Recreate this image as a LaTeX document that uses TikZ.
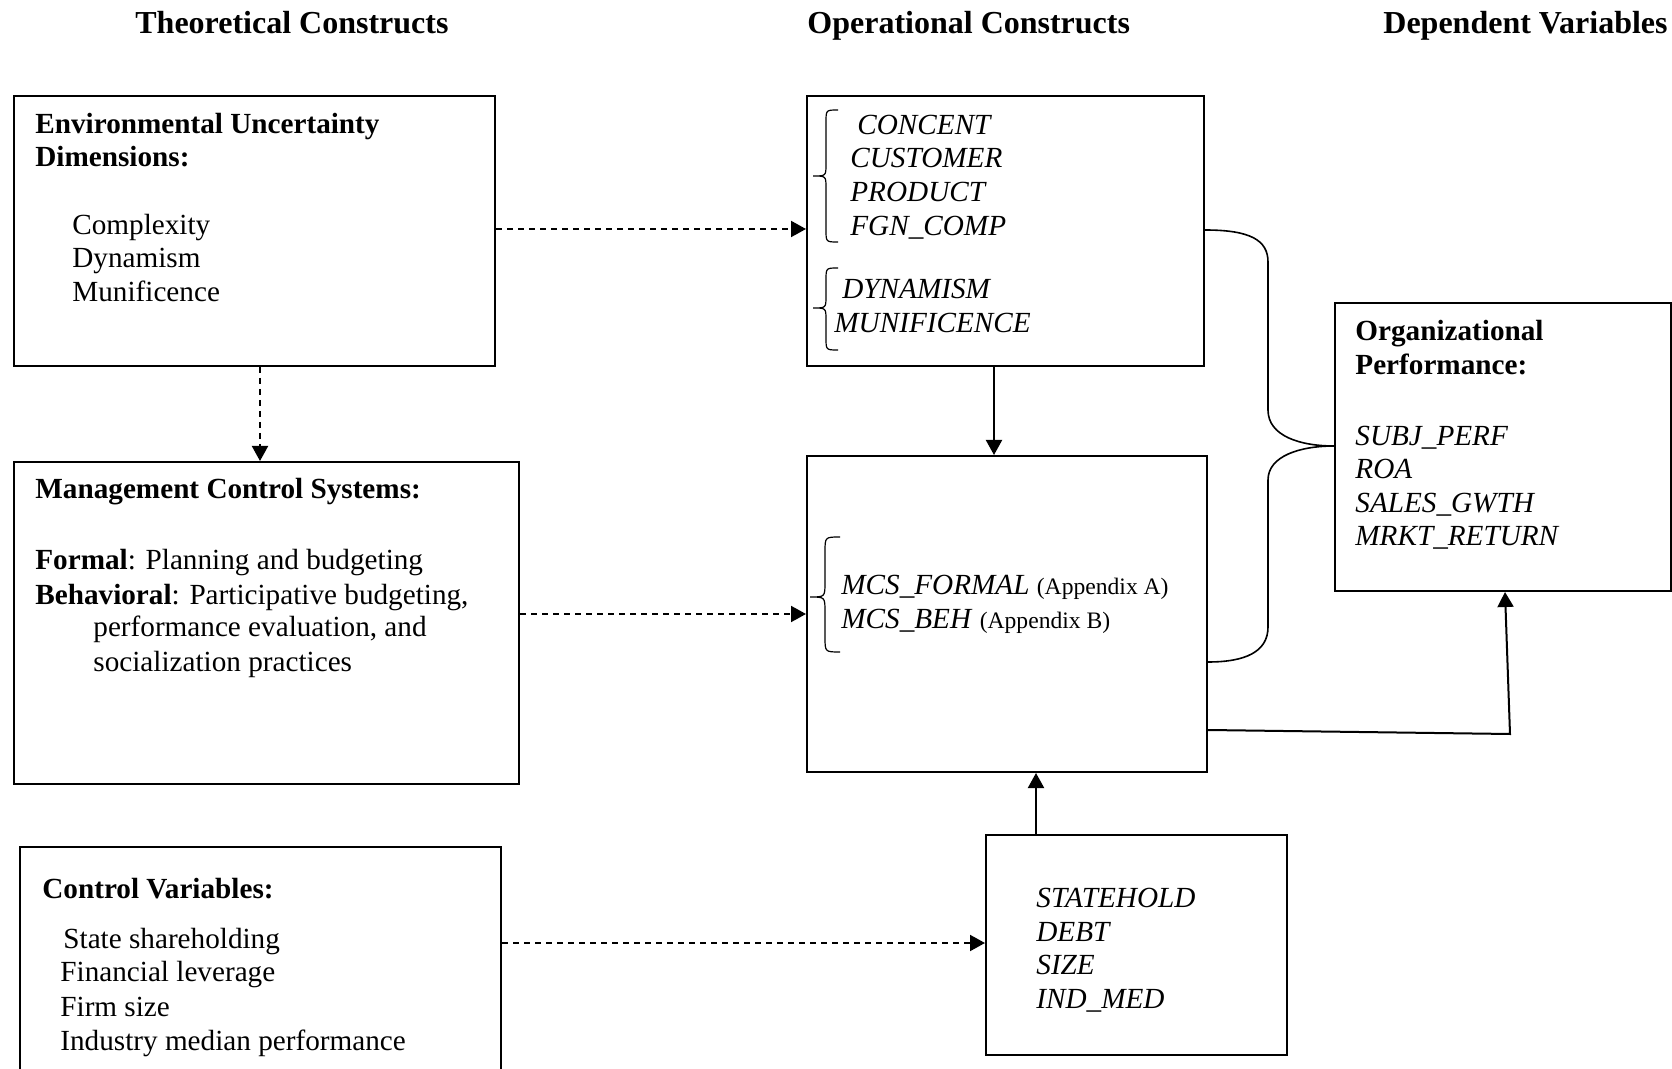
\documentclass[tikz,border=0pt]{standalone}
\usepackage{fontspec}
\setmainfont{Liberation Serif}
\usetikzlibrary{arrows.meta,calc}
\begin{document}
\begin{tikzpicture}[x=0.5pt,y=-0.5pt,
  box/.style={draw=black,line width=1pt,rectangle,inner sep=0pt},
  txt/.style={inner sep=0pt,anchor=base west,font=\fontsize{14.6}{17}\selectfont},
  hdr/.style={inner sep=0pt,anchor=base west,font=\fontsize{16}{19}\selectfont\bfseries},
  dasharrow/.style={line width=1pt,dash pattern=on 3pt off 2.5pt,-{Triangle[length=7.5pt,width=8pt]}},
  solidarrow/.style={line width=1pt,-{Triangle[length=7.5pt,width=8pt]}},
  bracel/.style={line width=0.6pt}]
\useasboundingbox (0,0) rectangle (1672,1069);

% boxes
\node[box,minimum width=481pt*0.5,minimum height=270pt*0.5,anchor=north west] (b1) at (13,95) {};
\node[box,minimum width=505pt*0.5,minimum height=322pt*0.5,anchor=north west] (b2) at (13,461) {};
\node[box,minimum width=481pt*0.5,minimum height=234pt*0.5,anchor=north west] (b3) at (19,846) {};
\node[box,minimum width=397pt*0.5,minimum height=270pt*0.5,anchor=north west] (o1) at (806,95) {};
\node[box,minimum width=400pt*0.5,minimum height=316pt*0.5,anchor=north west] (o2) at (806,455) {};
\node[box,minimum width=301pt*0.5,minimum height=220pt*0.5,anchor=north west] (o3) at (985,834) {};
\node[box,minimum width=336pt*0.5,minimum height=288pt*0.5,anchor=north west] (p1) at (1334,302) {};

\begin{scope}[shift={(0,2)}]
% headers
\node[hdr] (h1) at (135,32) {Theoretical Constructs};
\node[hdr] (h2) at (807,32) {Operational Constructs};
\node[hdr] (h3) at (1383,32) {Dependent Variables};

% box 1 text
\node[txt] (t11) at (35,132) {\textbf{Environmental Uncertainty}};
\node[txt] (t12) at (35,165) {\textbf{Dimensions:}};
\node[txt] (t13) at (72,233) {Complexity};
\node[txt] (t14) at (72,266) {Dynamism};
\node[txt] (t15) at (72,300) {Munificence};

% box 2 text
\node[txt] (t21) at (35,497) {\textbf{Management Control Systems:}};
\node[txt] (t22) at (35,568) {\textbf{Formal}: Planning and budgeting};
\node[txt] (t23) at (35,602) {\textbf{Behavioral}: Participative budgeting,};
\node[txt] (t24) at (93,635) {performance evaluation, and};
\node[txt] (t25) at (93,669) {socialization practices};

% box 3 text
\node[txt] (t31) at (42,896) {\textbf{Control Variables:}};
\node[txt] (t32) at (63,946) {State shareholding};
\node[txt] (t33) at (60,979) {Financial leverage};
\node[txt] (t34) at (60,1014) {Firm size};
\node[txt] (t35) at (60,1048) {Industry median performance};

% op box 1 text
\node[txt] (u11) at (857,133) {\textit{CONCENT}};
\node[txt] (u12) at (850,166) {\textit{CUSTOMER}};
\node[txt] (u13) at (850,200) {\textit{PRODUCT}};
\node[txt] (u14) at (850,234) {\textit{FGN\_COMP}};
\node[txt] (u15) at (842,297) {\textit{DYNAMISM}};
\node[txt] (u16) at (834,331) {\textit{MUNIFICENCE}};

% op box 2 text
\node[txt] (u21) at (841,593) {\textit{MCS\_FORMAL} {\fontsize{11.8}{13}\selectfont(Appendix A)}};
\node[txt] (u22) at (841,627) {\textit{MCS\_BEH} {\fontsize{11.8}{13}\selectfont(Appendix B)}};

% op box 3 text
\node[txt] (u31) at (1036,905) {\textit{STATEHOLD}};
\node[txt] (u32) at (1036,939) {\textit{DEBT}};
\node[txt] (u33) at (1036,972) {\textit{SIZE}};
\node[txt] (u34) at (1036,1006) {\textit{IND\_MED}};

% performance box text
\node[txt] (p11) at (1355,339) {\textbf{Organizational}};
\node[txt] (p12) at (1355,373) {\textbf{Performance:}};
\node[txt] (p13) at (1355,444) {\textit{SUBJ\_PERF}};
\node[txt] (p14) at (1355,477) {\textit{ROA}};
\node[txt] (p15) at (1355,511) {\textit{SALES\_GWTH}};
\node[txt] (p16) at (1355,544) {\textit{MRKT\_RETURN}};
\end{scope}

% left braces
\draw[bracel] (838,110) .. controls (826,110) .. (826,122) -- (826,164) .. controls (826,176) .. (813,176) .. controls (826,176) .. (826,188) -- (826,230) .. controls (826,242) .. (838,242);
\draw[bracel] (838,268) .. controls (826,268) .. (826,280) -- (826,296) .. controls (826,308) .. (813,308) .. controls (826,308) .. (826,320) -- (826,338) .. controls (826,350) .. (838,350);
\draw[bracel] (840,537) .. controls (825,537) .. (825,552) -- (825,582) .. controls (825,597) .. (810,597) .. controls (825,597) .. (825,612) -- (825,637) .. controls (825,652) .. (840,652);

% big right brace
\coordinate (bt) at (o1.east |- 0,230);
\coordinate (bb) at (o2.east |- 0,662);
\coordinate (bm) at (p1.west |- 0,446);
\draw[line width=0.8pt] (bt) .. controls (1250,230) and (1268,240) .. (1268,262) -- (1268,410)
  .. controls (1268,436) and (1300,446) .. (bm)
  .. controls (1300,446) and (1268,456) .. (1268,480) -- (1268,627)
  .. controls (1268,652) and (1245,662) .. (bb);

% dashed arrows
\draw[dasharrow] (b1.east |- 0,229) -- (o1.west |- 0,229);
\draw[dasharrow] (b1.south -| 260,0) -- (b2.north -| 260,0);
\draw[dasharrow] (b2.east |- 0,614) -- (o2.west |- 0,614);
\draw[dasharrow] (b3.east |- 0,943) -- (o3.west |- 0,943);

% solid arrows
\draw[solidarrow] (o1.south -| 994,0) -- (o2.north -| 994,0);
\draw[solidarrow] (o3.north -| 1036,0) -- (o2.south -| 1036,0);
\coordinate (pc) at (1510,734);
\draw[solidarrow] (o2.east |- 0,730) -- (pc) -- (p1.south -| 1505,0);
\end{tikzpicture}
\end{document}
